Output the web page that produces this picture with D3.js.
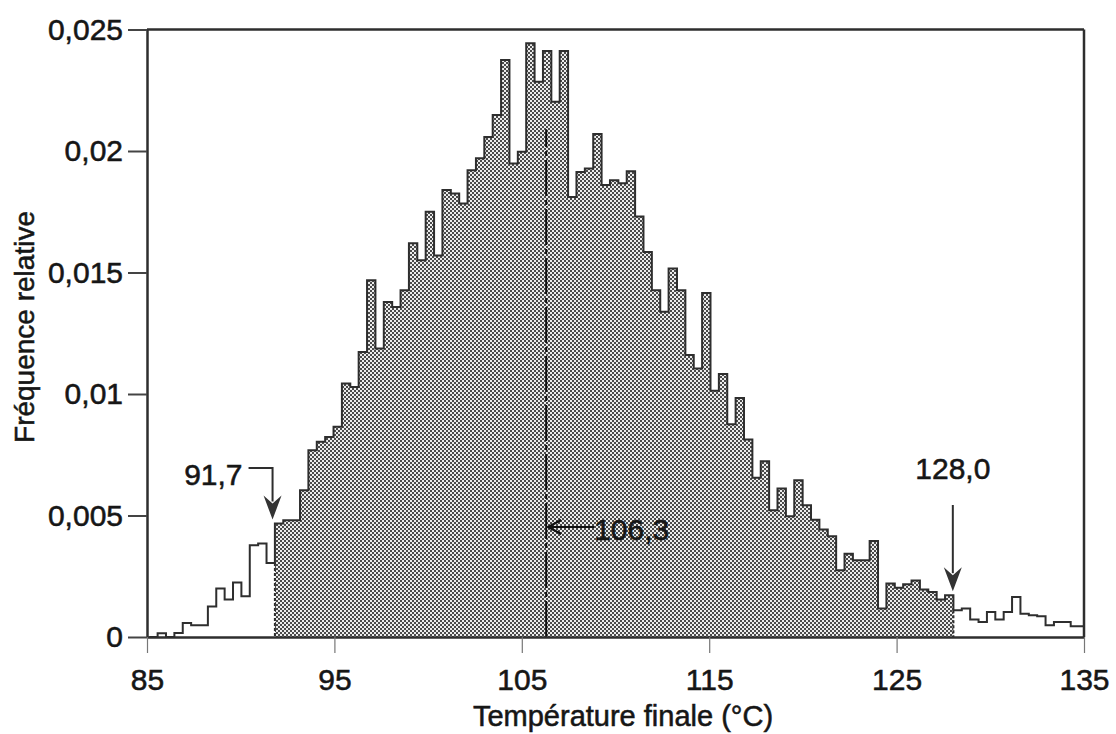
<!DOCTYPE html>
<html>
<head>
<meta charset="utf-8">
<script src="https://cdn.jsdelivr.net/npm/d3@7"></script>
<style>
  html, body { margin: 0; padding: 0; background: #fff; }
  svg { display: block; font-family: "Liberation Sans", Arial, Helvetica, sans-serif; }
  .lbl { fill: #161616; stroke: #161616; stroke-width: 0.55px; }
</style>
</head>
<body>
<svg id="chart" width="1116" height="734"></svg>
<script>
// Relative frequency of the final temperature, classes of equal width
const lowTail = [0, 0.00015, 0, 0.00016, 0.00058, 0.00048, 0.00048, 0.00126,
  0.0020, 0.00154, 0.00224, 0.00168, 0.00378, 0.00385, 0.00305, 0.00467];
const core = [
  0.0048, 0.0048, 0.00604, 0.00769, 0.00803, 0.00823, 0.00865, 0.01043,
  0.01029, 0.01173, 0.01468, 0.01187, 0.01379, 0.01358, 0.01427, 0.0162,
  0.0155, 0.0175, 0.0157, 0.01839, 0.01825, 0.01784, 0.01921, 0.0197,
  0.02058, 0.02148, 0.02374, 0.01949, 0.01997, 0.02443, 0.02285, 0.02412,
  0.02203, 0.02412, 0.01811, 0.01914, 0.01928, 0.0207, 0.0186, 0.0188,
  0.01867, 0.01917, 0.0173, 0.01584, 0.01427, 0.01338, 0.01516, 0.01427,
  0.0116, 0.01105, 0.01416, 0.01013, 0.01082, 0.00876, 0.00984, 0.00813,
  0.00655, 0.00723, 0.00522, 0.00611, 0.00497, 0.00645, 0.00542, 0.00483,
  0.00442, 0.00415, 0.00275, 0.00343, 0.00316, 0.00316, 0.00395, 0.00117,
  0.0022, 0.00203, 0.00217, 0.00233, 0.00195, 0.00185, 0.00154, 0.00172];
const highTail = [0.0011, 0.00117, 0.00072, 0.00062, 0.00103, 0.00072, 0.00103, 0.00165,
  0.00096, 0.00089, 0.00085, 0.00048, 0.00062, 0.00062, 0.00044, 0.00044];

const binOrigin = 85.12;   // °C, left edge of the first class
const binWidth = 0.447;    // °C

const lowerBound = 91.7;
const upperBound = 128.0;
const median = 106.3;
const medianLineTop = 0.0209;

const xTicks = [85, 95, 105, 115, 125, 135];
const yTicks = [0, 0.005, 0.01, 0.015, 0.02, 0.025];
const yTickLabels = ["0", "0,005", "0,01", "0,015", "0,02", "0,025"];

const xTitle = "Température finale (°C)";
const yTitle = "Fréquence relative";
const fmt = v => v.toFixed(1).replace(".", ",");

// ---------------------------------------------------------------
const svg = d3.select("#chart");
const lineInk = "#2e2e2e";

const x = d3.scaleLinear().domain([85, 135]).range([147, 1084]);
const y = d3.scaleLinear().domain([0, 0.025]).range([637, 29.5]);

const freq = [...lowTail, ...core, ...highTail];
const bins = freq.map((v, i) => ({
  x0: binOrigin + i * binWidth,
  x1: binOrigin + (i + 1) * binWidth,
  v
}));
const shaded = bins.filter(b => {
  const mid = (b.x0 + b.x1) / 2;
  return mid >= lowerBound && mid <= upperBound;
});

const defs = svg.append("defs");
const pat = defs.append("pattern")
  .attr("id", "stipple").attr("patternUnits", "userSpaceOnUse")
  .attr("width", 4).attr("height", 4);
pat.append("rect").attr("width", 4).attr("height", 4).attr("fill", "#ececec");
pat.append("rect").attr("width", 2).attr("height", 2).attr("fill", "#4a4a4a");
pat.append("rect").attr("x", 2).attr("y", 2).attr("width", 2).attr("height", 2).attr("fill", "#4a4a4a");

defs.append("clipPath").attr("id", "plotClip")
  .append("rect")
  .attr("x", x(85)).attr("y", 0)
  .attr("width", x(135) - x(85)).attr("height", y(0));

const stepPoints = arr => {
  const pts = [[x(arr[0].x0), y(0)]];
  arr.forEach(b => { pts.push([x(b.x0), y(b.v)], [x(b.x1), y(b.v)]); });
  pts.push([x(arr[arr.length - 1].x1), y(0)]);
  return pts;
};

const plot = svg.append("g").attr("clip-path", "url(#plotClip)");

// stippled area between the two bounds
plot.append("path")
  .attr("d", d3.area().x(p => p[0]).y0(y(0)).y1(p => p[1])(stepPoints(shaded).slice(1, -1)))
  .attr("fill", "url(#stipple)");

// dotted limits of the stippled area
const firstIdx = bins.indexOf(shaded[0]);
const lastIdx = bins.indexOf(shaded[shaded.length - 1]);
[
  { xv: shaded[0].x0, top: Math.min(bins[firstIdx - 1].v, shaded[0].v) },
  { xv: shaded[shaded.length - 1].x1, top: Math.min(bins[lastIdx + 1].v, shaded[shaded.length - 1].v) }
].forEach(s => {
  plot.append("line")
    .attr("x1", x(s.xv)).attr("x2", x(s.xv))
    .attr("y1", y(s.top)).attr("y2", y(0))
    .attr("stroke", lineInk).attr("stroke-width", 2)
    .attr("stroke-dasharray", "3,2");
});

// histogram outline
plot.append("path")
  .attr("d", d3.line()(stepPoints(bins)))
  .attr("fill", "none").attr("stroke", lineInk)
  .attr("stroke-width", 2).attr("stroke-linejoin", "miter");

// median line
svg.append("line")
  .attr("x1", x(median)).attr("x2", x(median))
  .attr("y1", y(0)).attr("y2", y(medianLineTop))
  .attr("stroke", "#111").attr("stroke-width", 2)
  .attr("stroke-dasharray", "36,4,5,4");

// axes
const yAxis = svg.append("g")
  .attr("transform", `translate(${x(85)},0)`)
  .call(d3.axisLeft(y).tickValues(yTicks)
    .tickFormat((d, i) => yTickLabels[i])
    .tickSize(19).tickSizeOuter(0).tickPadding(5));
const xAxis = svg.append("g")
  .attr("transform", `translate(0,${y(0)})`)
  .call(d3.axisBottom(x).tickValues(xTicks)
    .tickSize(16).tickSizeOuter(0).tickPadding(16));

[yAxis, xAxis].forEach(g => {
  g.select(".domain").attr("stroke", lineInk).attr("stroke-width", 2.5);
  g.selectAll(".tick text").attr("font-size", 30).attr("class", "lbl")
    .attr("font-family", "'Liberation Sans', Arial, sans-serif");
});
yAxis.selectAll(".tick line").attr("stroke", "#444").attr("stroke-width", 2);
xAxis.selectAll(".tick line").attr("stroke", "#777").attr("stroke-width", 1.2);

// top and right frame
svg.append("line")
  .attr("x1", x(85)).attr("x2", x(135)).attr("y1", y(0.025)).attr("y2", y(0.025))
  .attr("stroke", lineInk).attr("stroke-width", 2.5);
svg.append("line")
  .attr("x1", x(135)).attr("x2", x(135)).attr("y1", y(0.025)).attr("y2", y(0))
  .attr("stroke", lineInk).attr("stroke-width", 2.5);

// axis titles
svg.append("text")
  .attr("class", "lbl")
  .attr("x", 623).attr("y", 726)
  .attr("text-anchor", "middle").attr("font-size", 29)
  .text(xTitle);
svg.append("text")
  .attr("class", "lbl")
  .attr("transform", "translate(34,327) rotate(-90)")
  .attr("text-anchor", "middle").attr("font-size", 28)
  .text(yTitle);

// notched arrow head pointing down, tip at (cx, ty)
const arrowHead = (cx, ty) => `M${cx},${ty} L${cx - 9},${ty - 24} L${cx},${ty - 16} L${cx + 9},${ty - 24} Z`;

// lower bound annotation
{
  const ax = x(lowerBound);
  const tip = y(shaded[0].v) - 4;
  svg.append("path")
    .attr("d", `M${ax - 24},468 L${ax},468 L${ax},${tip - 18}`)
    .attr("fill", "none").attr("stroke", lineInk).attr("stroke-width", 2);
  svg.append("path").attr("d", arrowHead(ax, tip)).attr("fill", "#333");
  svg.append("text")
    .attr("class", "lbl")
    .attr("x", ax - 30).attr("y", 485).attr("text-anchor", "end")
    .attr("font-size", 30)
    .text(fmt(lowerBound));
}

// upper bound annotation
{
  const ax = x(upperBound);
  const tip = y(shaded[shaded.length - 1].v) - 4;
  svg.append("line")
    .attr("x1", ax).attr("x2", ax).attr("y1", 505).attr("y2", tip - 18)
    .attr("stroke", lineInk).attr("stroke-width", 2);
  svg.append("path").attr("d", arrowHead(ax, tip)).attr("fill", "#333");
  svg.append("text")
    .attr("class", "lbl")
    .attr("x", ax).attr("y", 479).attr("text-anchor", "middle")
    .attr("font-size", 30)
    .text(fmt(upperBound));
}

// median annotation
{
  const tx = x(median) + 2, ty = 527;
  svg.append("path")
    .attr("d", `M${tx + 46},${ty} L${tx},${ty} M${tx + 13},${ty - 7} L${tx},${ty} L${tx + 13},${ty + 7}`)
    .attr("fill", "none").attr("stroke", "#111").attr("stroke-width", 2.2);
  svg.append("text")
    .attr("class", "lbl")
    .attr("x", tx + 46).attr("y", 540)
    .attr("font-size", 30)
    .text(fmt(median));
}
</script>
</body>
</html>
